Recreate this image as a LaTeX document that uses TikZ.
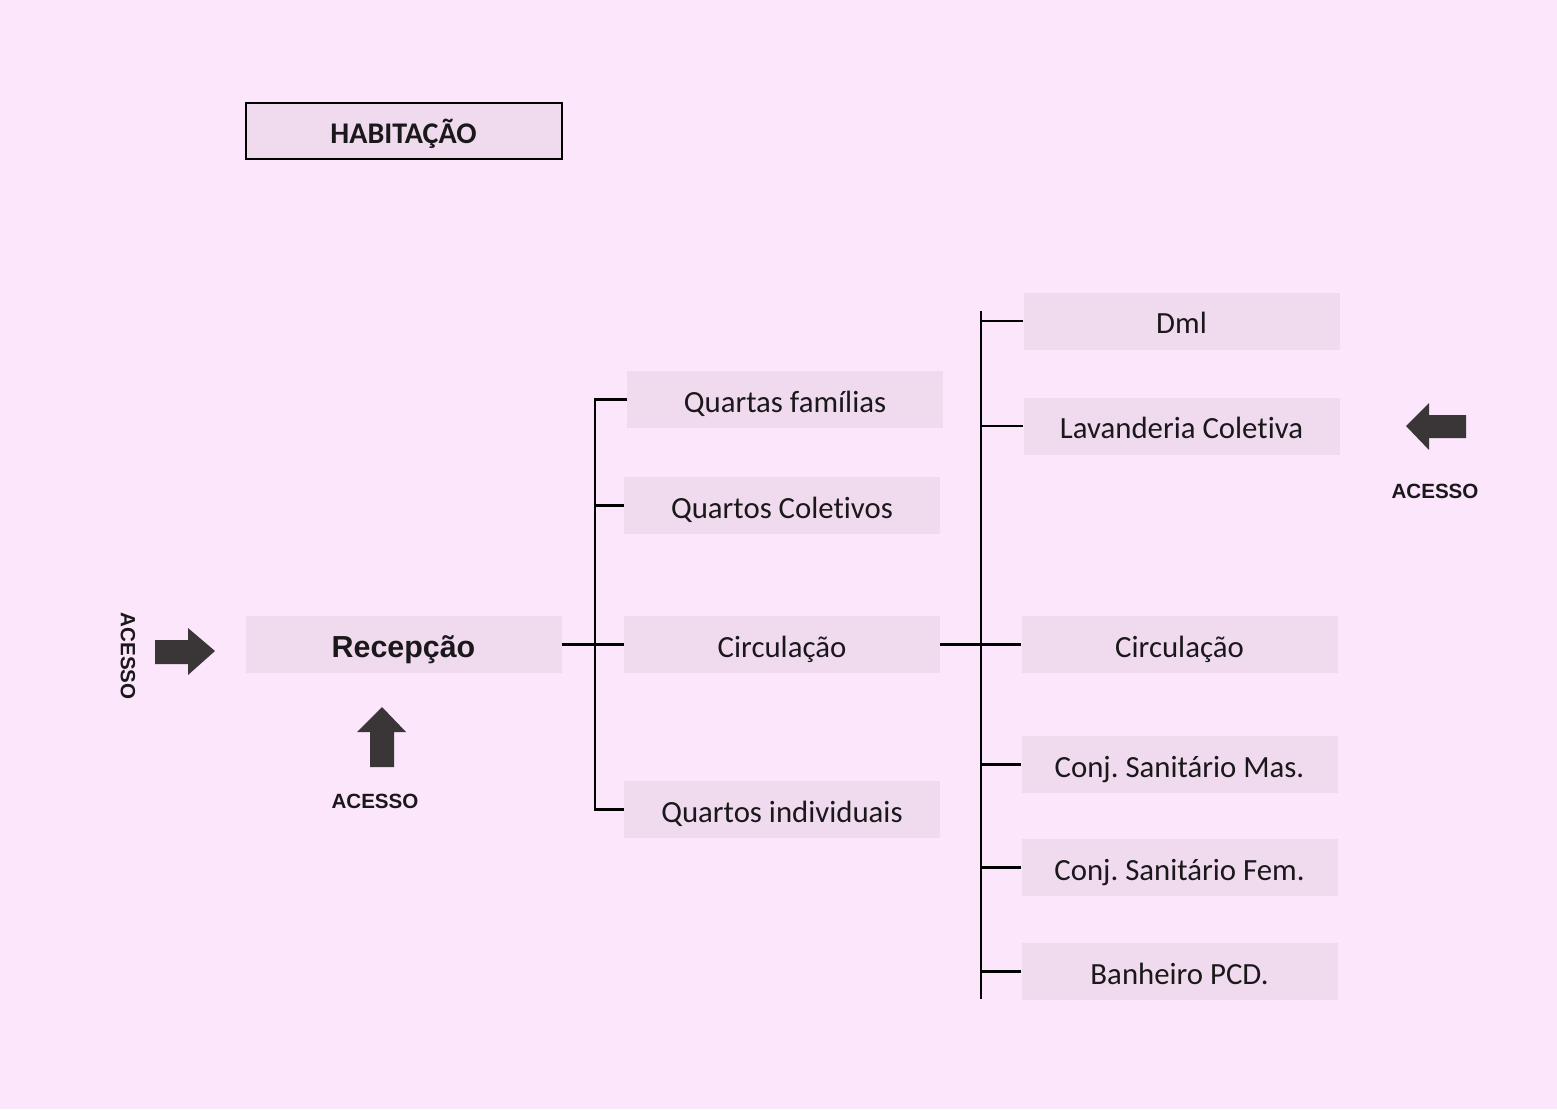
\documentclass[tikz,border=0pt]{standalone}
\usepackage{fontspec}
\setmainfont{Carlito}[Ligatures=NoCommon]
\newfontfamily\arialfont{Liberation Sans}
\usetikzlibrary{calc}
\definecolor{fundo}{RGB}{252,230,251}
\definecolor{caixa}{RGB}{240,218,238}
\definecolor{seta}{RGB}{58,53,55}
\definecolor{texto}{RGB}{26,24,26}
\frenchspacing

\begin{document}
\begin{tikzpicture}[x=0.5pt,y=-0.5pt,
  room/.style={fill=caixa,minimum width=158pt,minimum height=28.5pt,inner sep=0pt,
               text height=14pt,text depth=1.5pt,
               text=texto,font=\fontsize{15.4}{18}\selectfont},
  acesso/.style={text=texto,font=\arialfont\bfseries\fontsize{10.3}{12}\selectfont},
  linha/.style={line width=1.35pt,black}]
  \fill[fundo] (0,0) rectangle (1557,1109);
  \useasboundingbox (0,0) rectangle (1557,1109);

  \node[room,draw=black,line width=1pt,minimum height=28pt,font=\bfseries\fontsize{15}{18}\selectfont] (titulo) at (403.5,131) {HABITAÇÃO};

  \node[room,font=\arialfont\bfseries\fontsize{15.2}{18}\selectfont] (recepcao) at (403.5,644.5) {Recepção};

  \node[room] (qfam) at (785,399.5) {Quartas famílias};
  \node[room] (qcol) at (782,505.5) {Quartos Coletivos};
  \node[room] (circ1) at (782,644.5) {Circulação};
  \node[room] (qind) at (782,809.5) {Quartos individuais};

  \node[room] (dml) at (1181.5,321) {Dml};
  \node[room] (lav) at (1181.5,426) {Lavanderia Coletiva};
  \node[room] (circ2) at (1179.5,644.5) {Circulação};
  \node[room] (mas) at (1179.5,764.5) {Conj. Sanitário Mas.};
  \node[room] (fem) at (1179.5,867.5) {Conj. Sanitário Fem.};
  \node[room] (pcd) at (1179.5,971.5) {Banheiro PCD.};

  \coordinate (bar1) at (595,645);
  \coordinate (bar2top) at (981,311);
  \coordinate (bar2bot) at (981,999);

  \draw[linha] (recepcao) -- (circ1);
  \draw[linha] (qfam.west) -| (bar1) |- (qind.west);
  \draw[linha] (qcol.west) -- (qcol.west -| bar1);
  \draw[linha] (circ1) -- (circ2);
  \draw[linha] (bar2top) -- (bar2bot);
  \foreach \n in {dml,lav,mas,fem,pcd}
    \draw[linha] (\n.west) -- (\n.west -| bar2top);

  \fill[seta] (155,640) -- (188,640) -- (188,628) -- (215,651) -- (188,675) -- (188,664) -- (155,664) -- cycle;
  \fill[seta] (370,767) -- (370,732) -- (357,732) -- (382,707) -- (406,732) -- (394,732) -- (394,767) -- cycle;
  \fill[seta] (1466,415) -- (1429,415) -- (1429,403) -- (1406,426) -- (1429,450) -- (1429,438) -- (1466,438) -- cycle;

  \node[acesso,rotate=-90] (acesso1) at (128,656) {ACESSO};
  \node[acesso] (acesso2) at (375,801) {ACESSO};
  \node[acesso] (acesso3) at (1435,491) {ACESSO};
\end{tikzpicture}
\end{document}
